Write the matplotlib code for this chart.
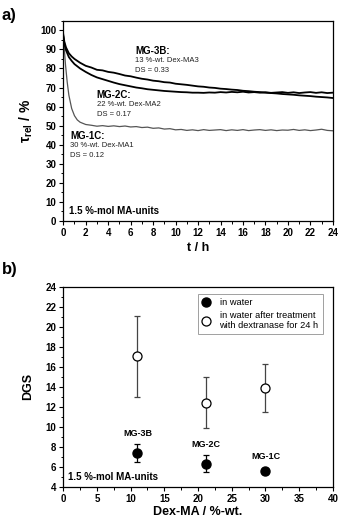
import numpy as np
import matplotlib
matplotlib.use("Agg")
import matplotlib.pyplot as plt
from matplotlib.ticker import MultipleLocator
from matplotlib.lines import Line2D

plt.rcParams.update({
    "font.family": ["Liberation Sans", "DejaVu Sans"],
    "font.size": 7,
    "axes.linewidth": 0.9,
    "xtick.direction": "out",
    "ytick.direction": "out",
    "mathtext.default": "regular",
})

# ---- panel a: relative transmission vs time ----
t_1c = [0, 0.1, 0.2, 0.35, 0.5, 0.75, 1, 1.25, 1.5, 2, 2.5, 3, 3.5, 4, 4.5, 5, 5.5, 6, 6.5, 7,
        7.5, 8, 8.5, 9, 9.5, 10, 10.5, 11, 11.5, 12, 12.5, 13, 13.5, 14, 14.5, 15, 15.5, 16,
        16.5, 17, 17.5, 18, 18.5, 19, 19.5, 20, 20.5, 21, 21.5, 22, 22.5, 23, 23.5, 24]
tau_1c = [98, 90, 82, 73, 66, 59, 55.2, 53, 51.8, 50.6, 50.2, 49.7, 50.0, 49.6, 49.9, 49.5, 49.8,
          49.3, 49.5, 49.0, 49.2, 48.6, 48.8, 48.2, 48.4, 47.8, 48.0, 47.5, 47.8, 47.4, 47.9,
          47.5, 47.7, 47.9, 47.4, 47.8, 47.5, 47.9, 47.4, 47.7, 47.9, 47.5, 47.8, 47.4, 47.7,
          47.6, 48.0, 47.5, 47.8, 47.4, 47.7, 48.1, 47.5, 47.3]

t_2c = [0, 0.1, 0.25, 0.5, 0.75, 1, 1.5, 2, 2.5, 3, 3.5, 4, 4.5, 5, 5.5, 6, 6.5, 7, 7.5, 8,
        8.5, 9, 9.5, 10, 10.5, 11, 11.5, 12, 12.5, 13, 13.5, 14, 14.5, 15, 15.5, 16, 16.5, 17,
        17.5, 18, 18.5, 19, 19.5, 20, 20.5, 21, 21.5, 22, 22.5, 23, 23.5, 24]
tau_2c = [97, 93, 89.5, 86, 84, 82.3, 80, 78.2, 76.6, 75.3, 74.4, 73.5, 72.6, 71.8, 71.2, 70.6,
          70.0, 69.6, 69.1, 68.8, 68.5, 68.2, 68.0, 67.8, 67.6, 67.5, 67.3, 67.3, 67.2, 67.4,
          67.3, 67.6, 67.4, 67.7, 67.5, 67.8, 67.4, 67.6, 67.3, 67.5, 67.2, 67.4, 67.6, 67.2,
          67.5, 67.1, 67.4, 67.6, 67.2, 67.5, 67.1, 67.3]

t_3b = [0, 0.1, 0.25, 0.5, 0.75, 1, 1.5, 2, 2.5, 3, 3.5, 4, 4.5, 5, 5.5, 6, 6.5, 7, 7.5, 8,
        8.5, 9, 9.5, 10, 10.5, 11, 11.5, 12, 12.5, 13, 13.5, 14, 14.5, 15, 15.5, 16, 16.5, 17,
        17.5, 18, 18.5, 19, 19.5, 20, 20.5, 21, 21.5, 22, 22.5, 23, 23.5, 24]
tau_3b = [98, 94, 91, 88, 86.3, 85, 83, 81.4, 80.5, 79.3, 79.0, 78.2, 77.8, 77.1, 76.3, 75.9,
          75.2, 74.6, 74.2, 73.6, 73.3, 72.8, 72.6, 72.0, 71.7, 71.4, 71.0, 70.6, 70.4, 70.0,
          69.8, 69.4, 69.2, 68.9, 68.7, 68.3, 68.1, 67.8, 67.6, 67.3, 67.1, 66.9, 66.6, 66.4,
          66.2, 65.9, 65.7, 65.5, 65.2, 65.0, 64.8, 64.5]

# ---- panel b: DGS vs Dex-MA content ----
dexma = [11.0, 21.2, 30.0]
dgs_water = [7.35, 6.3, 5.6]
err_water = [0.9, 0.85, 0.3]
dgs_dextranase = [17.05, 12.4, 13.9]
err_dextranase = [4.05, 2.55, 2.4]
sample_names = ["MG-3B", "MG-2C", "MG-1C"]

fig = plt.figure(figsize=(3.4, 5.21), dpi=100)
ax1 = fig.add_axes([0.186, 0.576, 0.793, 0.384])
ax2 = fig.add_axes([0.186, 0.0658, 0.793, 0.384])

ax1.plot(t_1c, tau_1c, color="#555555", lw=0.9)
ax1.plot(t_2c, tau_2c, color="black", lw=1.3)
ax1.plot(t_3b, tau_3b, color="black", lw=1.3)
ax1.set_xlim(0, 24)
ax1.set_ylim(0, 105)
ax1.xaxis.set_major_locator(MultipleLocator(2))
ax1.xaxis.set_minor_locator(MultipleLocator(1))
ax1.yaxis.set_major_locator(MultipleLocator(10))
ax1.yaxis.set_minor_locator(MultipleLocator(5))
ax1.set_xlabel("t / h", fontsize=9, fontweight="bold", labelpad=3)
ax1.set_ylabel(r"$\tau_{rel}$ / %", fontsize=10, fontweight="bold", labelpad=4)

lab = [("MG-3B:", "13 %-wt. Dex-MA3", "DS = 0.33", 6.4, 89),
       ("MG-2C:", "22 %-wt. Dex-MA2", "DS = 0.17", 2.97, 66),
       ("MG-1C:", "30 %-wt. Dex-MA1", "DS = 0.12", 0.6, 44.3)]
for name, l2, l3, x, y in lab:
    ax1.text(x, y, name, fontsize=7, fontweight="bold", va="center")
    ax1.text(x, y - 4.9, l2, fontsize=5.5, va="center", color="#222222")
    ax1.text(x, y - 9.9, l3, fontsize=5.5, va="center", color="#222222")
ax1.text(0.5, 5.1, "1.5 %-mol MA-units", fontsize=7, fontweight="bold", va="center")

ax2.errorbar(dexma, dgs_dextranase, yerr=err_dextranase, fmt="o", ms=6.5, mfc="white",
             mec="black", mew=0.9, ecolor="#444444", elinewidth=0.9, capsize=2,
             capthick=0.9)
ax2.errorbar(dexma, dgs_water, yerr=err_water, fmt="o", ms=6.5, mfc="black", mec="black",
             ecolor="black", elinewidth=0.9, capsize=2, capthick=0.9)
for x, y, name in zip(dexma, [9.3, 8.2, 7.0], sample_names):
    ax2.text(x, y, name, fontsize=6.5, fontweight="bold", ha="center", va="center")
ax2.text(0.75, 5.0, "1.5 %-mol MA-units", fontsize=7, fontweight="bold", va="center")
ax2.set_xlim(0, 40)
ax2.set_ylim(4, 24)
ax2.xaxis.set_major_locator(MultipleLocator(5))
ax2.xaxis.set_minor_locator(MultipleLocator(2.5))
ax2.yaxis.set_major_locator(MultipleLocator(2))
ax2.yaxis.set_minor_locator(MultipleLocator(1))
ax2.set_xlabel("Dex-MA / %-wt.", fontsize=9, fontweight="bold", labelpad=2)
ax2.set_ylabel("DGS", fontsize=9, fontweight="bold", labelpad=8)
handles = [Line2D([], [], ls="none", marker="o", ms=6.5, mfc="black", mec="black"),
           Line2D([], [], ls="none", marker="o", ms=6.5, mfc="white", mec="black", mew=0.9)]
labels = ["in water", "in water after treatment\nwith dextranase for 24 h"]
leg = ax2.legend(handles, labels, loc="upper right", fontsize=6.7, frameon=True, fancybox=False,
                 edgecolor="#888888", handletextpad=0.9, borderpad=0.45, labelspacing=0.35,
                 handlelength=1.0, bbox_to_anchor=(0.98, 0.985))
leg.get_frame().set_linewidth(0.7)

for ax in (ax1, ax2):
    ax.tick_params(which="major", length=3, width=0.8, labelsize=7, pad=2)
    ax.tick_params(which="minor", length=1.8, width=0.7)
    ax.tick_params(top=False, right=False)
    for tl in ax.get_xticklabels() + ax.get_yticklabels():
        tl.set_fontweight("bold")

fig.text(0.005, 0.985, "a)", fontsize=12, fontweight="bold", va="top")
fig.text(0.005, 0.497, "b)", fontsize=12, fontweight="bold", va="top")

fig.savefig("out.png", dpi=100)
